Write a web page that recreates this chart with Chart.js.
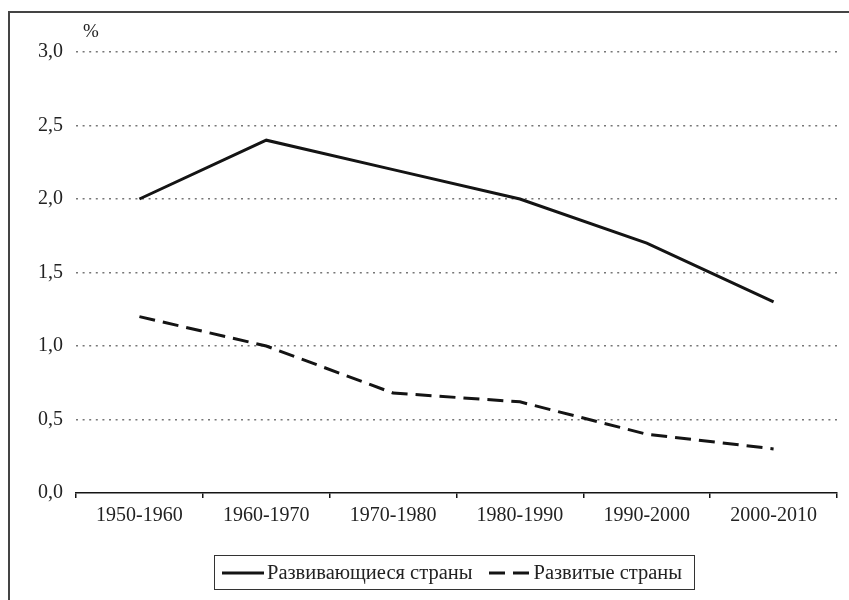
<!DOCTYPE html>
<html>
<head>
<meta charset="utf-8">
<script src="https://cdn.jsdelivr.net/npm/chart.js@4/dist/chart.umd.min.js"></script>
<style>
  html, body { margin: 0; padding: 0; background: #fff; }
  #wrap { position: relative; width: 849px; height: 600px; overflow: hidden; }
  #frame { position: absolute; left: 8px; top: 11px; width: 900px; height: 700px;
           border-left: 2px solid #444; border-top: 2px solid #444; }
  canvas { position: absolute; left: 0; top: 0; }
  #unit { position: absolute; left: 83px; top: 20px; font: 19px "Liberation Serif", serif; color: #222; }
  #legend { position: absolute; left: 214px; top: 555px; width: 479px; height: 33px;
            border: 1.5px solid #333; font: 20.5px "Liberation Serif", serif; color: #222;
            display: flex; align-items: center; }
  .item { display: flex; align-items: center; }
  .item svg { display: block; }
</style>
</head>
<body>
<div id="wrap">
  <div id="frame"></div>
  <canvas id="c" width="849" height="600"></canvas>
  <div id="unit">%</div>
  <div id="legend"></div>
</div>
<script>
// Average annual population growth by decade, %
const periods = ['1950-1960', '1960-1970', '1970-1980', '1980-1990', '1990-2000', '2000-2010'];
const developing = [2.0, 2.4, 2.2, 2.0, 1.7, 1.3];
const developed = [1.2, 1.0, 0.68, 0.62, 0.4, 0.3];
const seriesNames = ['Развивающиеся страны', 'Развитые страны'];
const yTicks = [0, 0.5, 1.0, 1.5, 2.0, 2.5, 3.0];

const serif = '"Liberation Serif", "Times New Roman", serif';
const ink = '#141414';

const datasets = [
  { label: seriesNames[0], data: developing, borderColor: ink, borderWidth: 3, borderDash: [] },
  { label: seriesNames[1], data: developed, borderColor: ink, borderWidth: 3, borderDash: [16, 8] }
].map(d => Object.assign(d, { pointRadius: 0, tension: 0, fill: false, borderCapStyle: 'butt' }));

new Chart(document.getElementById('c'), {
  type: 'line',
  data: { labels: periods, datasets },
  options: {
    responsive: false,
    animation: false,
    devicePixelRatio: 1,
    layout: { padding: { top: 52, right: 12, left: 0, bottom: 0 } },
    plugins: { legend: { display: false }, tooltip: { enabled: false } },
    scales: {
      x: {
        type: 'category',
        offset: true,
        grid: { display: true, drawOnChartArea: false, drawTicks: true, tickLength: 5, color: ink, lineWidth: 1.5, offset: true },
        border: { display: true, color: ink, width: 1.5 },
        ticks: { color: '#222', font: { family: serif, size: 20 }, padding: 6, maxRotation: 0 },
        afterFit: s => { s.height = 107; }
      },
      y: {
        min: 0, max: 3,
        afterBuildTicks: s => { s.ticks = yTicks.map(v => ({ value: v })); },
        grid: { drawTicks: false, color: ctx => ctx.tick.value === 0 ? 'rgba(0,0,0,0)' : '#777', lineWidth: 1.6 },
        border: { display: false, dash: [2, 4.6] },
        ticks: {
          color: '#222', font: { family: serif, size: 20 }, padding: 13,
          callback: v => Number(v).toFixed(1).replace('.', ',')
        },
        afterFit: s => { s.width = 76; }
      }
    }
  }
});

// Legend box below the plot
const legend = document.getElementById('legend');
datasets.forEach((d, i) => {
  const item = document.createElement('div');
  item.className = 'item';
  item.style.marginLeft = i === 0 ? '7px' : '16px';
  const dash = d.borderDash.length ? ` stroke-dasharray="${d.borderDash.join(' ')}"` : '';
  item.innerHTML = `<svg width="42" height="8"><line x1="0" y1="4" x2="42" y2="4" stroke="${ink}" stroke-width="3"${dash}/></svg>` +
    `<span style="margin-left:3px">${d.label}</span>`;
  legend.appendChild(item);
});
</script>
</body>
</html>
